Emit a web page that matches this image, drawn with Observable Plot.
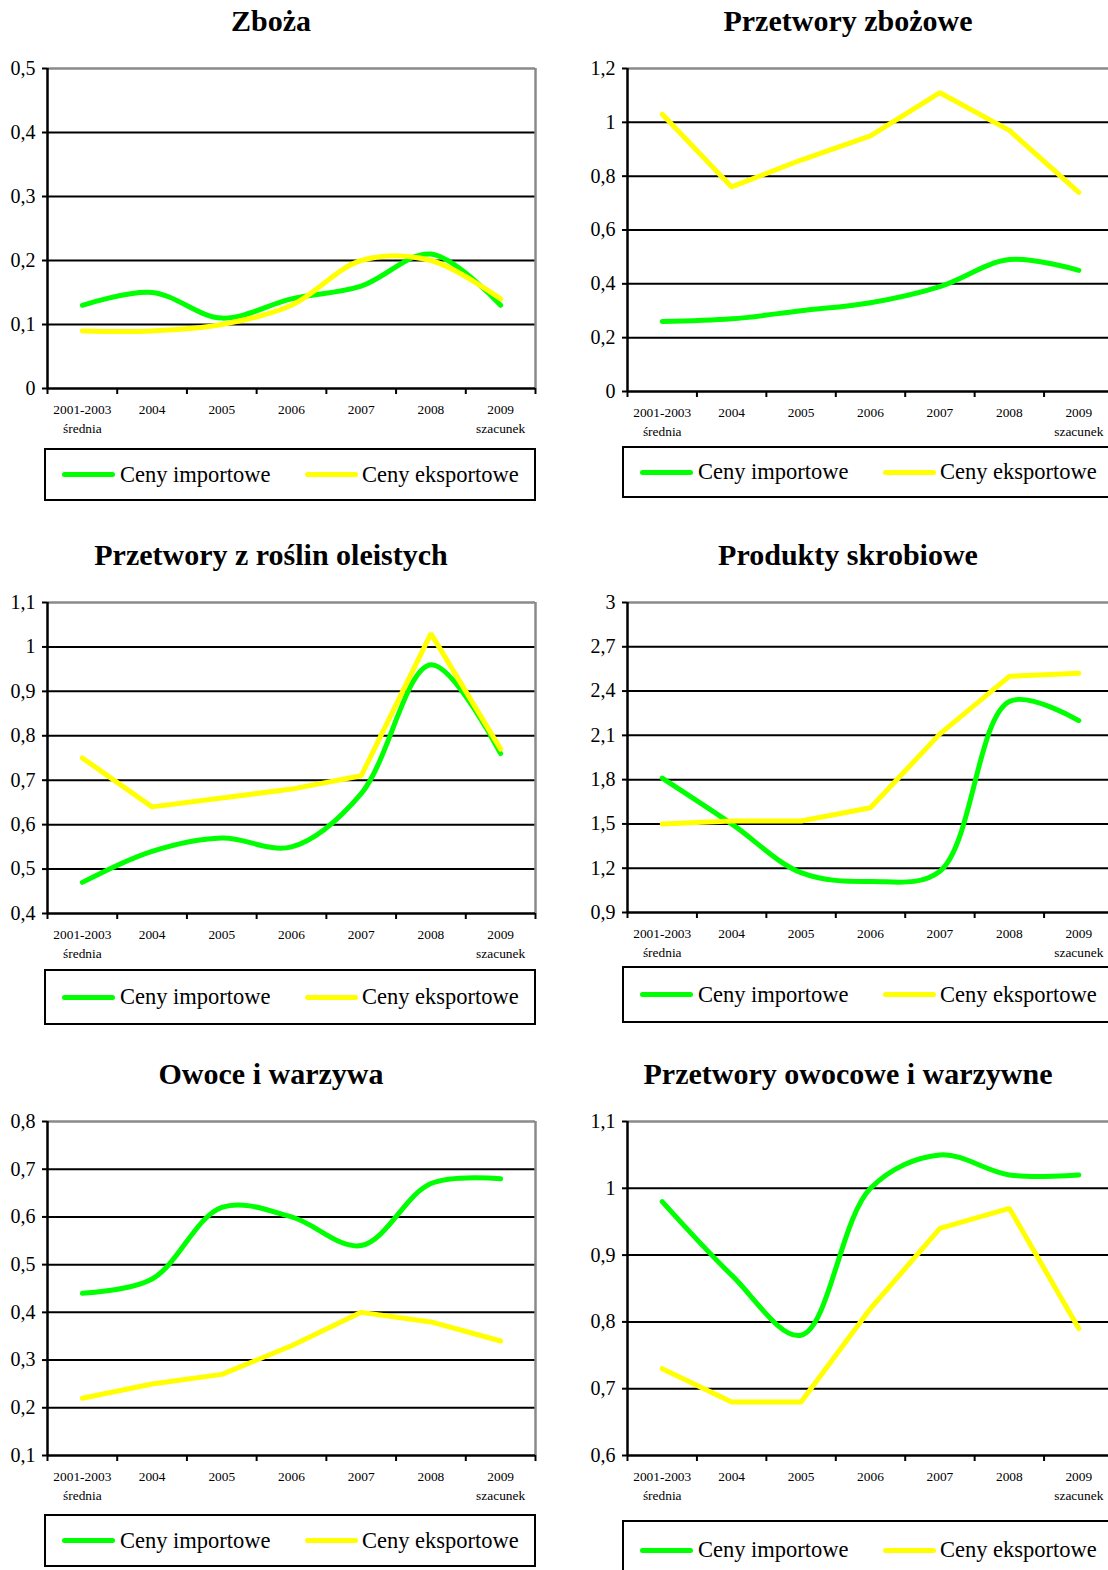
<!DOCTYPE html>
<html>
<head>
<meta charset="utf-8">
<script src="https://cdn.jsdelivr.net/npm/d3@7"></script>
<script src="https://cdn.jsdelivr.net/npm/@observablehq/plot@0.6"></script>
<style>
  html, body { margin: 0; padding: 0; background: #fff; }
  #root { position: relative; width: 1108px; height: 1570px; overflow: hidden; background: #fff; font-family: "Liberation Serif", "DejaVu Serif", serif; }
  .title { position: absolute; transform: translate(-50%, -50%); font-weight: bold; font-size: 30px; white-space: nowrap; color: #000; }
  .chart { position: absolute; }
  .chart text { font-family: "Liberation Serif", serif; }
  .legend { position: absolute; border: 2px solid #000; box-sizing: border-box; background: #fff; }
  .legend .sw { position: absolute; height: 5px; border-radius: 2.5px; }
  .legend .lt { position: absolute; font-size: 22.5px; white-space: nowrap; color: #000; transform: translateY(-50%); }
</style>
</head>
<body>
<div id="root"></div>
<script>
// ---------- data ----------
const categories = ["2001-2003\nśrednia", "2004", "2005", "2006", "2007", "2008", "2009\nszacunek"];
const seriesNames = ["Ceny importowe", "Ceny eksportowe"];

const titles = ["Zboża", "Przetwory zbożowe", "Przetwory z roślin oleistych", "Produkty skrobiowe", "Owoce i warzywa", "Przetwory owocowe i warzywne"];

const zbozaImport = [0.13, 0.15, 0.11, 0.14, 0.16, 0.21, 0.13];
const zbozaExport = [0.09, 0.09, 0.10, 0.13, 0.20, 0.20, 0.14];
const zbozaTicks = [0, 0.1, 0.2, 0.3, 0.4, 0.5];

const przetworyZbozoweImport = [0.26, 0.27, 0.30, 0.33, 0.39, 0.49, 0.45];
const przetworyZbozoweExport = [1.03, 0.76, 0.86, 0.95, 1.11, 0.97, 0.74];
const przetworyZbozoweTicks = [0, 0.2, 0.4, 0.6, 0.8, 1, 1.2];

const oleisteImport = [0.47, 0.54, 0.57, 0.55, 0.67, 0.96, 0.76];
const oleisteExport = [0.75, 0.64, 0.66, 0.68, 0.71, 1.03, 0.77];
const oleisteTicks = [0.4, 0.5, 0.6, 0.7, 0.8, 0.9, 1, 1.1];

const skrobioweImport = [1.81, 1.50, 1.17, 1.11, 1.18, 2.33, 2.20];
const skrobioweExport = [1.50, 1.52, 1.52, 1.61, 2.11, 2.50, 2.52];
const skrobioweTicks = [0.9, 1.2, 1.5, 1.8, 2.1, 2.4, 2.7, 3];

const owoceImport = [0.44, 0.47, 0.62, 0.60, 0.54, 0.67, 0.68];
const owoceExport = [0.22, 0.25, 0.27, 0.33, 0.40, 0.38, 0.34];
const owoceTicks = [0.1, 0.2, 0.3, 0.4, 0.5, 0.6, 0.7, 0.8];

const przetworyOwocoweImport = [0.98, 0.87, 0.78, 1.00, 1.05, 1.02, 1.02];
const przetworyOwocoweExport = [0.73, 0.68, 0.68, 0.82, 0.94, 0.97, 0.79];
const przetworyOwocoweTicks = [0.6, 0.7, 0.8, 0.9, 1, 1.1];

const colors = ["#00ff00", "#ffff00"];

// ---------- layout ----------
const panels = [
  {title: titles[0], imp: zbozaImport, exp: zbozaExport, ticks: zbozaTicks, expSmooth: true,
   col: 0, titleY: 21, top: 68, bottom: 388, legTop: 448, legH: 53},
  {title: titles[1], imp: przetworyZbozoweImport, exp: przetworyZbozoweExport, ticks: przetworyZbozoweTicks, expSmooth: false,
   col: 1, titleY: 21, top: 68, bottom: 391, legTop: 446, legH: 52},
  {title: titles[2], imp: oleisteImport, exp: oleisteExport, ticks: oleisteTicks, expSmooth: false,
   col: 0, titleY: 555, top: 602, bottom: 913, legTop: 969, legH: 56},
  {title: titles[3], imp: skrobioweImport, exp: skrobioweExport, ticks: skrobioweTicks, expSmooth: false,
   col: 1, titleY: 555, top: 602, bottom: 912, legTop: 966, legH: 57},
  {title: titles[4], imp: owoceImport, exp: owoceExport, ticks: owoceTicks, expSmooth: false,
   col: 0, titleY: 1074, top: 1121, bottom: 1455, legTop: 1514, legH: 53},
  {title: titles[5], imp: przetworyOwocoweImport, exp: przetworyOwocoweExport, ticks: przetworyOwocoweTicks, expSmooth: false,
   col: 1, titleY: 1074, top: 1121, bottom: 1455, legTop: 1520, legH: 60}
];

const cols = [
  {svgLeft: 0, axisX: 47, plotW: 488, titleX: 271, legLeft: 44, legW: 492},
  {svgLeft: 560, axisX: 627, plotW: 486, titleX: 848, legLeft: 622, legW: 520}
];

const fmt = d => String(+d.toFixed(2)).replace(".", ",");
const serif = "'Liberation Serif', 'Times New Roman', serif";
const root = document.getElementById("root");

panels.forEach(p => {
  const c = cols[p.col];
  const t = document.createElement("div");
  t.className = "title";
  t.style.left = c.titleX + "px";
  t.style.top = p.titleY + "px";
  t.textContent = p.title;
  root.appendChild(t);

  const mt = 12, mb = 50, mr = 12;
  const ml = c.axisX - c.svgLeft;
  const idx = d3.range(categories.length);
  const impData = idx.map(i => ({i, v: p.imp[i]}));
  const expData = idx.map(i => ({i, v: p.exp[i]}));
  const ymin = p.ticks[0], ymax = p.ticks[p.ticks.length - 1];
  const inner = p.ticks.slice(1, -1);
  const bounds = d3.range(categories.length + 1).map(k => k - 0.5);

  const chart = Plot.plot({
    width: ml + c.plotW + mr,
    height: mt + (p.bottom - p.top) + mb,
    marginLeft: ml, marginRight: mr, marginTop: mt, marginBottom: mb,
    style: {fontFamily: serif, background: "transparent", overflow: "visible", color: "#000"},
    x: {type: "linear", domain: [-0.5, categories.length - 0.5], axis: null},
    y: {domain: [ymin, ymax], axis: null},
    marks: [
      Plot.ruleY(inner, {stroke: "#000", strokeWidth: 2}),
      Plot.ruleY([ymax], {stroke: "#8a8a8a", strokeWidth: 2.5}),
      Plot.ruleX([categories.length - 0.5], {stroke: "#8a8a8a", strokeWidth: 2.5}),
      Plot.axisY({ticks: p.ticks, tickFormat: fmt, tickSize: 5, tickPadding: 7, fontSize: 20, fontFamily: serif, stroke: "#000", strokeWidth: 2, label: null}),
      Plot.axisX({ticks: bounds, tickFormat: () => "", tickSize: 6, stroke: "#000", strokeWidth: 2, label: null}),
      Plot.axisX({ticks: idx, tickFormat: i => categories[i], tickSize: 0, tickPadding: 12, fontSize: 13.4, fontFamily: serif, lineHeight: 1.42, label: null}),
      Plot.line(impData, {x: "i", y: "v", stroke: colors[0], strokeWidth: 5, curve: "catmull-rom", strokeLinejoin: "round", strokeLinecap: "round"}),
      Plot.line(expData, {x: "i", y: "v", stroke: colors[1], strokeWidth: 5, curve: p.expSmooth ? "catmull-rom" : "linear", strokeLinejoin: "miter", strokeLinecap: "round"}),
      Plot.ruleX([-0.5], {stroke: "#000", strokeWidth: 2.5}),
      Plot.ruleY([ymin], {stroke: "#000", strokeWidth: 2.5})
    ]
  });
  chart.classList.add("chart");
  chart.style.left = c.svgLeft + "px";
  chart.style.top = (p.top - mt) + "px";
  root.appendChild(chart);

  const lg = document.createElement("div");
  lg.className = "legend";
  lg.style.left = c.legLeft + "px";
  lg.style.top = p.legTop + "px";
  lg.style.width = c.legW + "px";
  lg.style.height = p.legH + "px";
  const mid = p.legH / 2 - 2;
  const items = [{sw: 16, tx: 74}, {sw: 259, tx: 316}];
  seriesNames.forEach((name, k) => {
    const s = document.createElement("div");
    s.className = "sw";
    s.style.left = items[k].sw + "px";
    s.style.width = "53px";
    s.style.top = (mid - 2.5) + "px";
    s.style.background = colors[k];
    lg.appendChild(s);
    const tx = document.createElement("div");
    tx.className = "lt";
    tx.style.left = items[k].tx + "px";
    tx.style.top = mid + "px";
    tx.textContent = name;
    lg.appendChild(tx);
  });
  root.appendChild(lg);
});
</script>
</body>
</html>
